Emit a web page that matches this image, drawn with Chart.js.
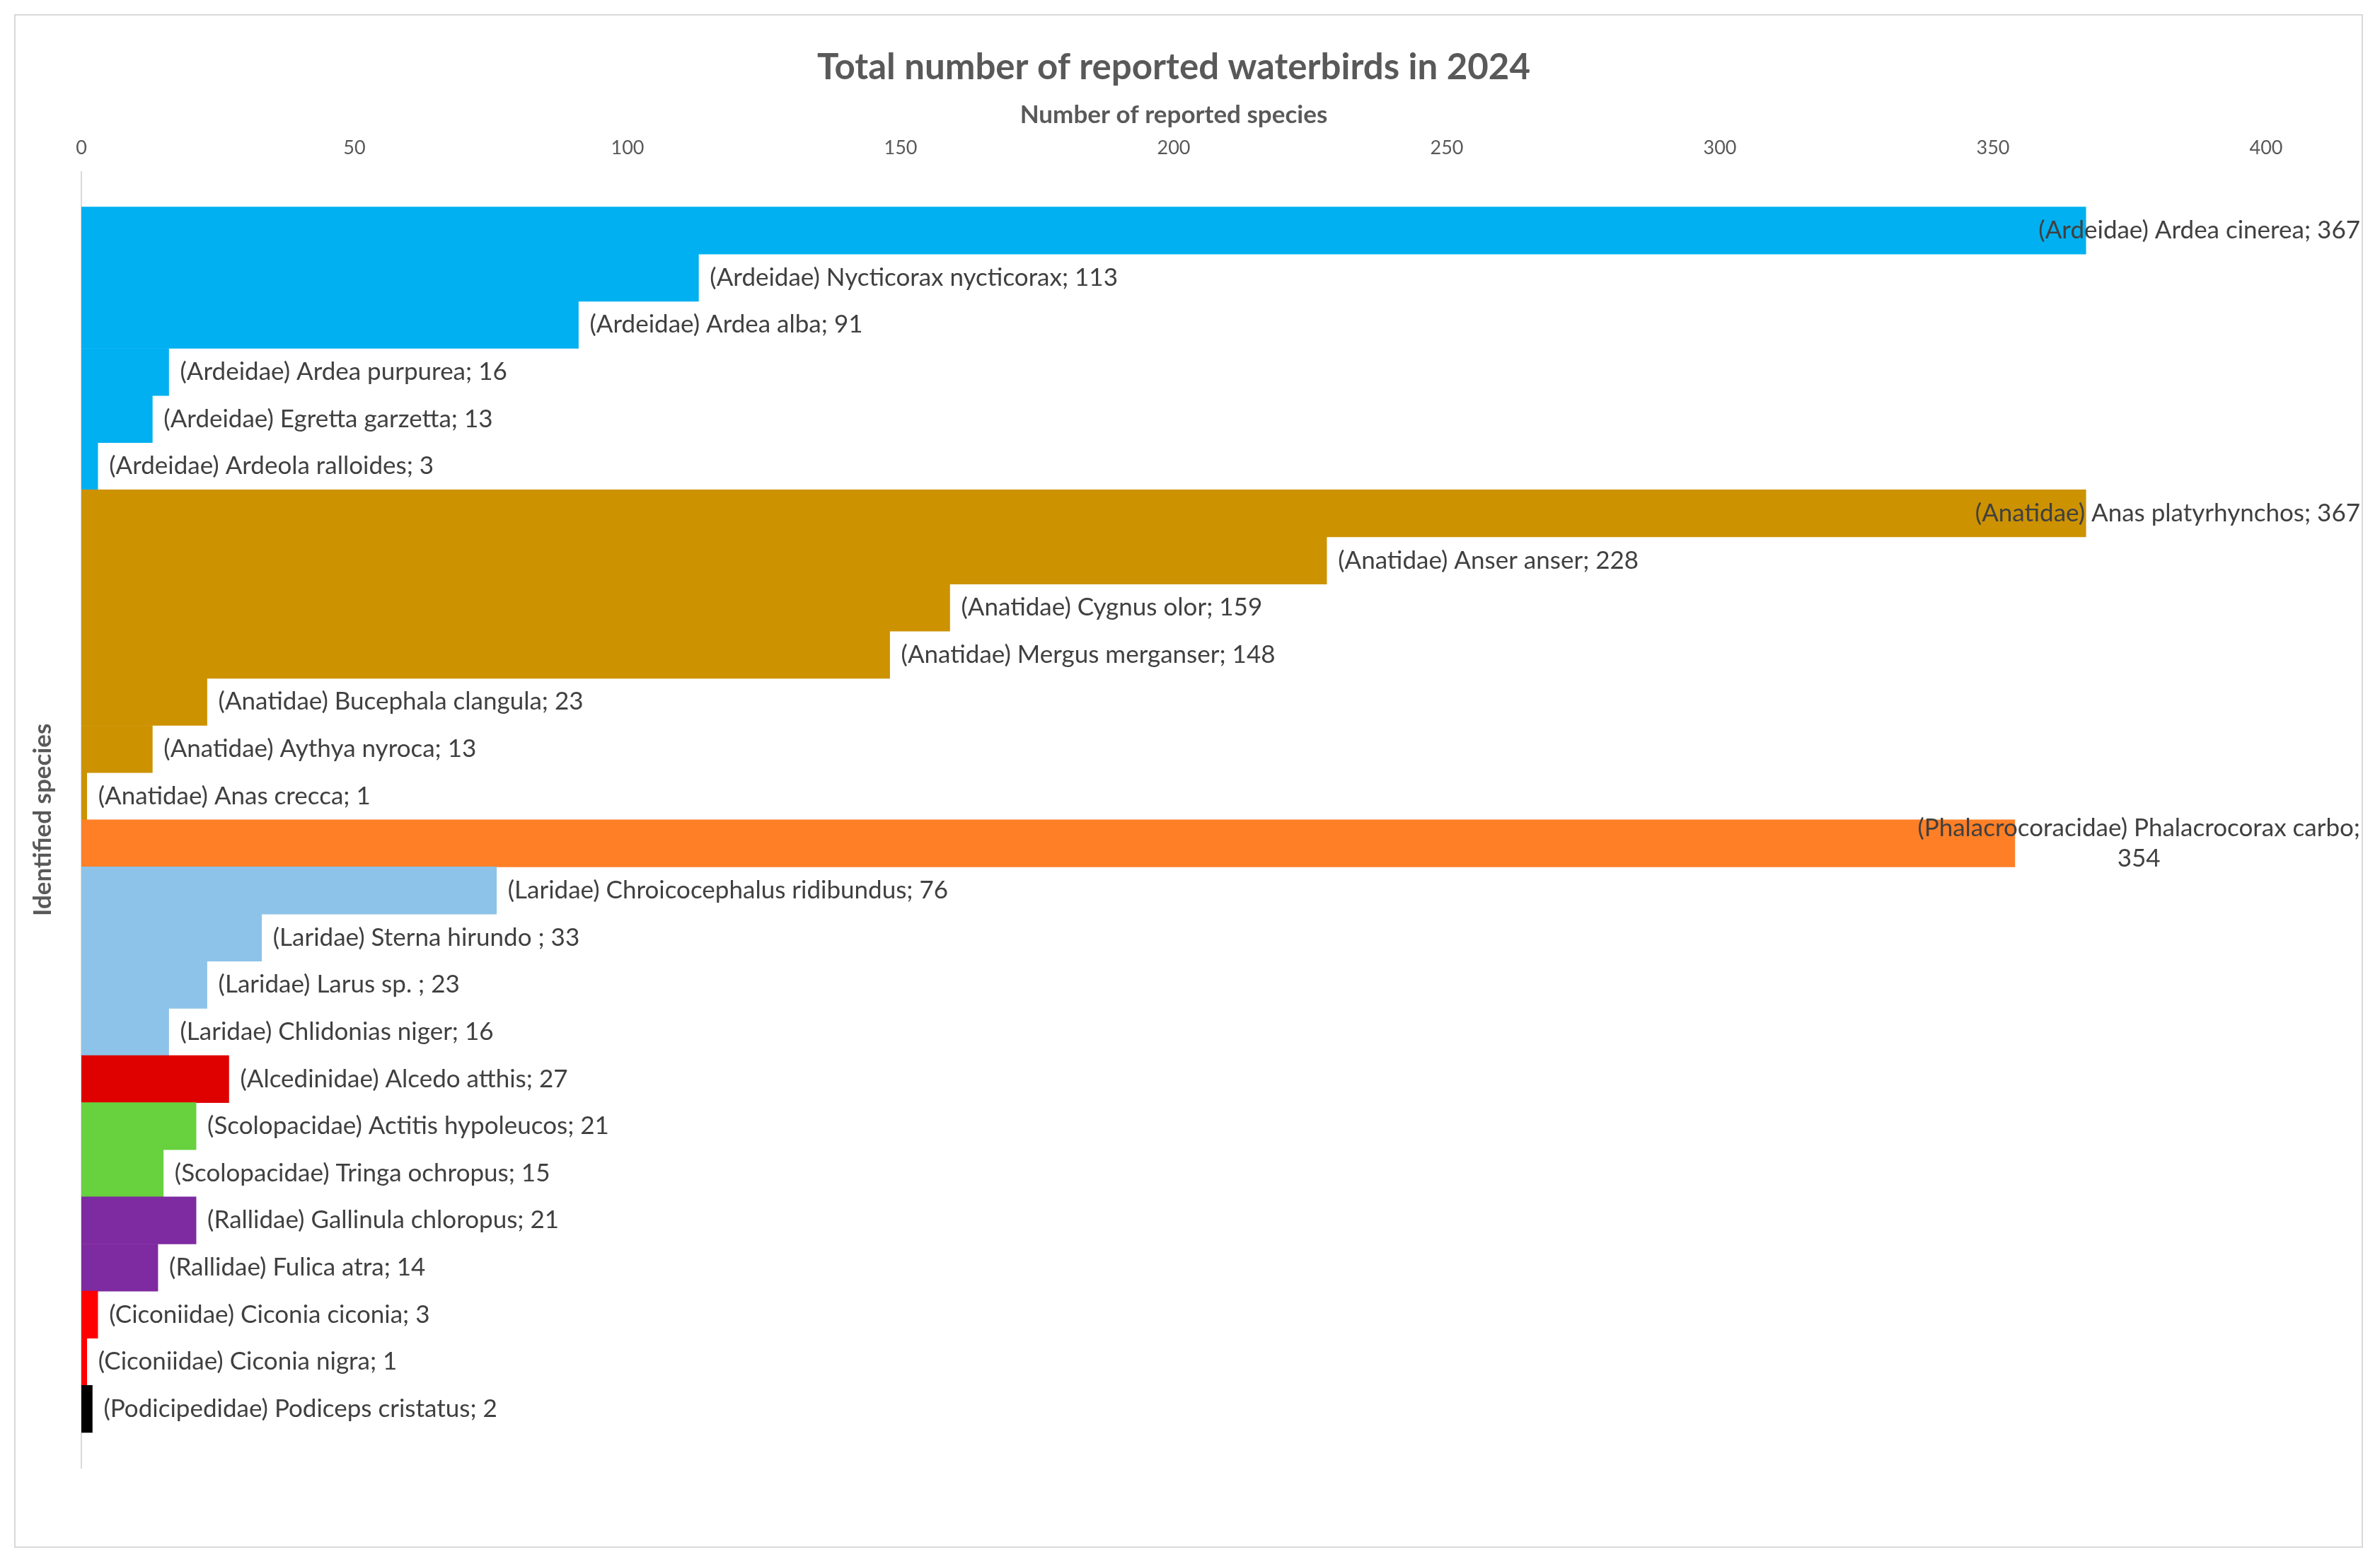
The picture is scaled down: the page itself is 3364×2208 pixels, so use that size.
<!DOCTYPE html>
<html>
<head>
<meta charset="utf-8">
<title>Total number of reported waterbirds in 2024</title>
<script src="https://cdn.jsdelivr.net/npm/chart.js@4.4.1/dist/chart.umd.min.js"></script>
<style>
  html, body { margin: 0; padding: 0; background: #fff; }
  #frame { position: absolute; left: 20px; top: 20px; width: 3320px; height: 2168px;
           border: 2px solid #D9D9D9; box-sizing: border-box; }
  #wrap { position: absolute; left: 0; top: 0; width: 3364px; height: 2208px; }
</style>
</head>
<body>
<div id="frame"></div>
<div id="wrap"><canvas id="birds"></canvas></div>
<script>
// species, grouped by family, top to bottom as in the chart
const families = [
  'Ardeidae', 'Ardeidae', 'Ardeidae', 'Ardeidae', 'Ardeidae', 'Ardeidae',
  'Anatidae', 'Anatidae', 'Anatidae', 'Anatidae', 'Anatidae', 'Anatidae', 'Anatidae',
  'Phalacrocoracidae',
  'Laridae', 'Laridae', 'Laridae', 'Laridae',
  'Alcedinidae',
  'Scolopacidae', 'Scolopacidae',
  'Rallidae', 'Rallidae',
  'Ciconiidae', 'Ciconiidae',
  'Podicipedidae'
]
const species = [
  'Ardea cinerea', 'Nycticorax nycticorax', 'Ardea alba', 'Ardea purpurea', 'Egretta garzetta', 'Ardeola ralloides',
  'Anas platyrhynchos', 'Anser anser', 'Cygnus olor', 'Mergus merganser', 'Bucephala clangula', 'Aythya nyroca', 'Anas crecca',
  'Phalacrocorax carbo',
  'Chroicocephalus ridibundus', 'Sterna hirundo ', 'Larus sp. ', 'Chlidonias niger',
  'Alcedo atthis',
  'Actitis hypoleucos', 'Tringa ochropus',
  'Gallinula chloropus', 'Fulica atra',
  'Ciconia ciconia', 'Ciconia nigra',
  'Podiceps cristatus'
]
const counts = [
  367, 113, 91, 16, 13, 3,
  367, 228, 159, 148, 23, 13, 1,
  354,
  76, 33, 23, 16,
  27,
  21, 15,
  21, 14,
  3, 1,
  2
]
const familyColors = {
  Ardeidae: '#00B0F0',
  Anatidae: '#CC9200',
  Phalacrocoracidae: '#FF7F27',
  Laridae: '#8DC3E9',
  Alcedinidae: '#DF0000',
  Scolopacidae: '#67D13E',
  Rallidae: '#7E2AA0',
  Ciconiidae: '#FF0000',
  Podicipedidae: '#000000'
}
const xTicks = [0, 50, 100, 150, 200, 250, 300, 350, 400]

const labelFont = '35px Lato'
const labelRight = 3336
const wrapWidth = 660

// "(Family) Species; n" next to the end of each bar, like Excel's outside-end labels
const barLabels = {
  id: 'barLabels',
  afterDatasetsDraw(chart) {
    const ctx = chart.ctx
    const meta = chart.getDatasetMeta(0)
    ctx.save()
    ctx.font = labelFont
    ctx.fillStyle = '#404040'
    ctx.textBaseline = 'middle'
    meta.data.forEach((bar, i) => {
      let text = '(' + families[i] + ') ' + species[i] + '; ' + counts[i]
      let lines = [text]
      if (ctx.measureText(text).width > wrapWidth) {
        let cut = text.lastIndexOf(' ')
        lines = [text.slice(0, cut), text.slice(cut + 1)]
      }
      let w = Math.max(...lines.map(l => ctx.measureText(l).width))
      let left = bar.x + 16
      if (left + w > labelRight) left = labelRight - w
      let lh = 43
      let top = bar.y - (lines.length - 1) * lh / 2
      lines.forEach((l, k) => {
        if (lines.length > 1) {
          ctx.textAlign = 'center'
          ctx.fillText(l, left + w / 2, top + k * lh)
        } else {
          ctx.textAlign = 'left'
          ctx.fillText(l, left, top)
        }
      })
    })
    ctx.restore()
  }
}

new Chart(document.getElementById('birds'), {
  type: 'bar',
  data: {
    datasets: [{
      label: 'Number of reported species',
      data: counts.map((c, i) => ({ x: c, y: i })),
      backgroundColor: families.map(f => familyColors[f]),
      borderWidth: 0,
      barPercentage: 1,
      categoryPercentage: 1
    }]
  },
  options: {
    indexAxis: 'y',
    responsive: true,
    maintainAspectRatio: false,
    animation: false,
    layout: {
      padding: { top: 65, left: 40, right: 161, bottom: 133 }
    },
    plugins: {
      legend: { display: false },
      tooltip: { enabled: false },
      title: {
        display: true,
        fullSize: false,
        text: 'Total number of reported waterbirds in 2024',
        color: '#595959',
        font: { family: 'Lato', size: 51, weight: 'bold' },
        padding: { top: 0, bottom: 0 }
      }
    },
    scales: {
      x: {
        type: 'linear',
        position: 'top',
        min: 0,
        max: 400,
        afterBuildTicks: axis => { axis.ticks = xTicks.map(v => ({ value: v })) },
        ticks: {
          color: '#595959',
          font: { family: 'Lato', size: 27 },
          padding: 17
        },
        grid: { display: false, drawTicks: false },
        border: { display: false },
        title: {
          display: true,
          text: 'Number of reported species',
          color: '#595959',
          font: { family: 'Lato', size: 35, weight: 'bold' },
          padding: { top: 16, bottom: -8 }
        }
      },
      y: {
        type: 'linear',
        reverse: true,
        offset: false,
        bounds: 'data',
        grace: 0,
        min: -1.25,
        max: 26.25,
        ticks: { display: false },
        grid: { display: false, drawTicks: false },
        border: { display: true, color: '#D9D9D9', width: 2 },
        title: {
          display: true,
          text: 'Identified species',
          color: '#595959',
          font: { family: 'Lato', size: 35, weight: 'bold' },
          padding: { top: 0, bottom: 33 }
        }
      }
    }
  },
  plugins: [barLabels]
})
</script>
</body>
</html>
